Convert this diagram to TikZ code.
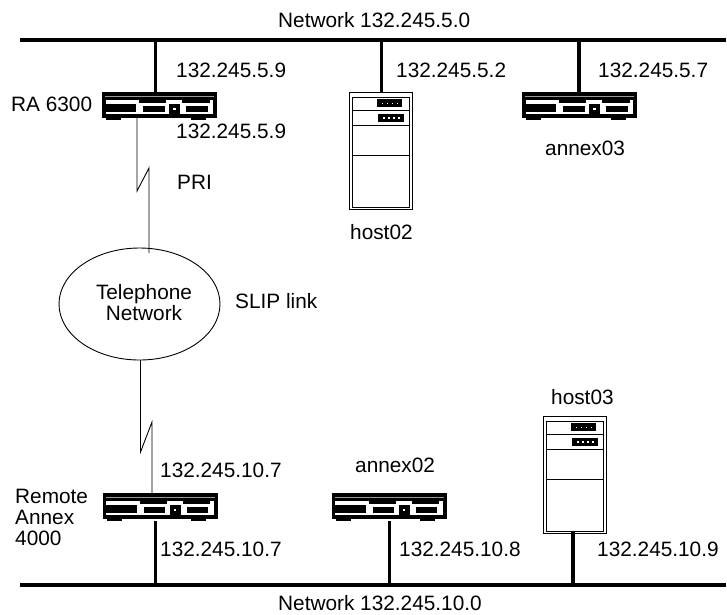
\documentclass[tikz,border=0pt]{standalone}
\usepackage{fontspec}
\setmainfont{Liberation Sans}
\usetikzlibrary{shapes.geometric,positioning,calc}
\begin{document}
\begin{tikzpicture}[x=1pt,y=-1pt,
  lbl/.style={font=\fontsize{20.8}{21}\selectfont,inner sep=0pt},
  bus/.style={fill=black,inner sep=0pt,minimum width=706.5pt,minimum height=4pt},
  netlink/.style={line width=3.5pt},
  serial/.style={line width=0.9pt},
  router/.pic={
    \node[inner sep=0pt,minimum width=115pt,minimum height=28pt] (-box) at (0,0) {};
    \begin{scope}[shift={(-57.5,-14)}]
      \fill (0,0) rectangle (115,26);
      \fill[white] (3.7,7.7) rectangle (111,22);
      \fill[white,opacity=0.6] (3,3.6) rectangle (112,4.4);
      \fill (37,7.7) rectangle (64,11); \fill (80,7.7) rectangle (107.7,11);
      \fill (3.7,12.3) rectangle (34.3,20);
      \fill (41.3,14) rectangle (62.7,20); \fill (84.3,14) rectangle (105.7,20);
      \fill (67.3,12.3) rectangle (78,22);
      \fill[white] (71,16.3) rectangle (73.7,18.3);
      \fill (4.3,26) rectangle (19.3,28); \fill (88.7,26) rectangle (103.7,28);
    \end{scope}},
  server/.pic={
    \node[inner sep=0pt,minimum width=64pt,minimum height=118pt] (-box) at (0,0) {};
    \begin{scope}[shift={(-32,-59)}]
      \draw[line width=0.9pt] (0.5,0.5) rectangle (63.5,117);
      \draw[line width=0.9pt] (3.3,5.7) rectangle (60,115.5);
      \draw[line width=0.9pt] (3.3,18) -- (60,18) (3.3,33) -- (60,33) (3.3,63) -- (60,63);
      \fill (27.7,7.3) rectangle (53.3,15.3); \fill (29,22) rectangle (54.7,30);
      \foreach \px in {33,38,43,48} {
        \fill[white] (\px,10.6) rectangle +(1.4,1.4);
        \fill[white] (\px+1.3,25.3) rectangle +(1.4,1.4);
      }
    \end{scope}}
]
\useasboundingbox (0,0) rectangle (727,614);

% the two networks
\node[bus] (net5) at (372.75,40) {};
\node[bus] (net10) at (372.75,584.7) {};
\node[lbl,anchor=west] (net5lbl) at (278,20) {Network 132.245.5.0};
\node[lbl,anchor=west] (net10lbl) at (278,603) {Network 132.245.10.0};

% devices
\pic (ra) at (159.5,106) {router};
\pic (host02) at (381,151) {server};
\pic (annex03) at (579.5,106) {router};
\pic (remote) at (160,507) {router};
\pic (annex02) at (389,507) {router};
\pic (host03) at (575,475) {server};
\node[draw,ellipse,line width=0.9pt,inner sep=0pt,minimum width=161pt,minimum height=112pt] (phone) at (139.5,304) {};

% drops to the networks
\coordinate (tapra) at (155.7,40);
\coordinate (taphost02) at (381.7,40);
\coordinate (tapannex03) at (579,40);
\coordinate (tapremote) at (155.7,586);
\coordinate (tapannex02) at (389.7,586);
\coordinate (taphost03) at (573,586);
\draw[netlink] (tapra) -- (tapra |- ra-box.north);
\draw[netlink] (taphost02) -- (taphost02 |- host02-box.north);
\draw[netlink] (tapannex03) -- (tapannex03 |- annex03-box.north);
\draw[netlink] (tapremote) -- (tapremote |- remote-box.south);
\draw[netlink] (tapannex02) -- (tapannex02 |- annex02-box.south);
\draw[netlink] (taphost03) -- ($(taphost03 |- host03-box.south)+(0,-3)$);

% serial lines
\coordinate (pria) at (137,118);
\coordinate (prib) at (149,253);
\draw[serial] (pria) -- (137,191) -- (149,168) -- (prib);
\coordinate (sliptop) at (140.5,360);
\coordinate (slipbot) at (152,494);
\draw[serial] (sliptop) -- (140.5,452) -- (152,422) -- (slipbot);

% labels
\node[lbl,anchor=west] (ra5a) at (176,70) {132.245.5.9};
\node[lbl,anchor=west] (ra5b) at (176,131) {132.245.5.9};
\node[lbl,anchor=west] (host02ip) at (396,70) {132.245.5.2};
\node[lbl,anchor=west] (annex03ip) at (598,70) {132.245.5.7};
\node[lbl,anchor=west] (ralbl) at (11,104) {RA 6300};
\node[lbl,anchor=west] (prilbl) at (177,182) {PRI};
\node[lbl,anchor=west] (annex03lbl) at (545,148) {annex03};
\node[lbl,anchor=west] (host02lbl) at (350,232) {host02};
\node[lbl,align=center] (phonelbl) at (144,303) {Telephone\\Network};
\node[lbl,anchor=west] (sliplbl) at (235,301) {SLIP link};
\node[lbl,anchor=west] (host03lbl) at (551,397) {host03};
\node[lbl,anchor=west] (remoteip) at (160,470) {132.245.10.7};
\node[lbl,anchor=west] (remoteip2) at (160,549) {132.245.10.7};
\node[lbl,anchor=west] (annex02lbl) at (355,465) {annex02};
\node[lbl,anchor=west] (annex02ip) at (399,549) {132.245.10.8};
\node[lbl,anchor=west] (host03ip) at (597,549) {132.245.10.9};
\node[lbl,align=left,anchor=west] (remotelbl) at (15,517) {Remote\\Annex\\4000};
\end{tikzpicture}
\end{document}
